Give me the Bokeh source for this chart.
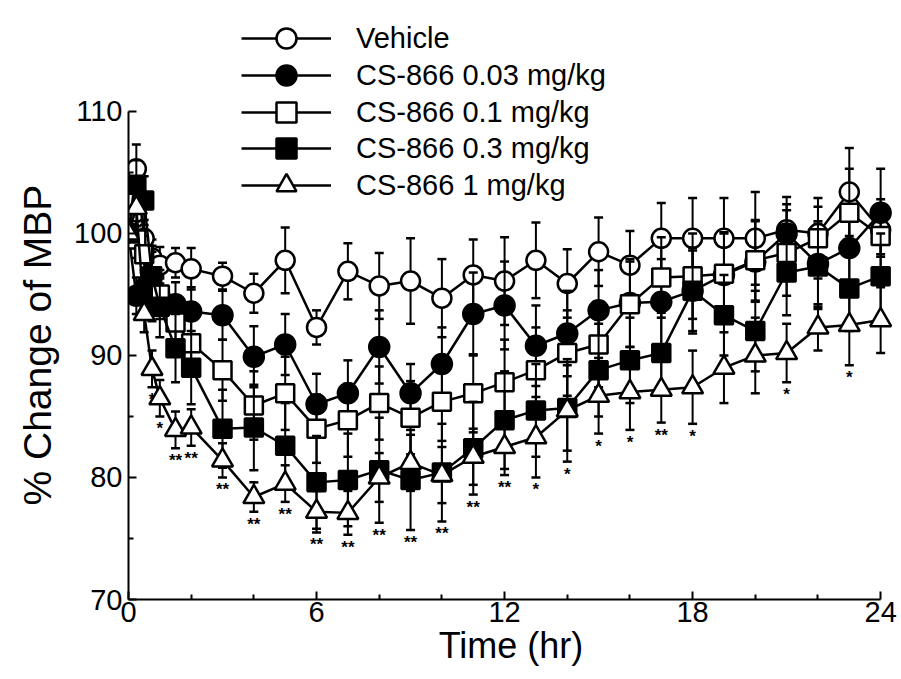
from bokeh.plotting import figure
from bokeh.models import ColumnDataSource, FixedTicker, Legend, LegendItem, Range1d, Title
from bokeh.embed import file_html
from bokeh.resources import INLINE
from bokeh.core.properties import value

# ---- data ----
times = [0, 0.25, 0.5, 0.75, 1, 1.5, 2, 3, 4, 5, 6, 7, 8, 9, 10, 11, 12,
         13, 14, 15, 16, 17, 18, 19, 20, 21, 22, 23, 24]

labels = ["Vehicle", "CS-866 0.03 mg/kg", "CS-866 0.1 mg/kg",
          "CS-866 0.3 mg/kg", "CS-866 1 mg/kg"]

vehicle = [100, 105.3, 99.6, 98.0, 97.4, 97.6, 97.1, 96.5, 95.1, 97.8, 92.3,
           96.9, 95.7, 96.1, 94.7, 96.6, 96.1, 97.8, 95.9, 98.5, 97.4, 99.6,
           99.6, 99.6, 99.6, 100.3, 100.0, 103.4, 100.3]
vehicle_sem = [0, 2.0, 1.5, 1.5, 1.5, 1.2, 1.7, 1.1, 1.6, 2.7, 1.4, 2.3, 2.7,
               3.5, 3.2, 2.9, 3.6, 3.1, 2.8, 2.8, 2.8, 2.9, 3.3, 3.3, 3.8,
               2.1, 2.2, 3.6, 2.0]
vehicle_sig = [""] * 29

dose003 = [100, 94.9, 95.5, 94.3, 94.8, 94.2, 93.6, 93.3, 89.9, 90.9, 86.0,
           86.9, 90.7, 86.9, 89.3, 93.4, 94.1, 90.8, 91.8, 93.7, 94.3, 94.4,
           95.3, 96.6, 97.7, 100.0, 97.5, 98.8, 101.7]
dose003_sem = [0, 1.5, 1.5, 1.5, 1.5, 1.8, 2.0, 2.0, 2.5, 2.5, 2.5, 2.7, 3.0,
               2.4, 3.0, 3.4, 3.6, 3.3, 3.5, 3.3, 3.6, 3.5, 3.3, 3.5, 3.3,
               3.0, 3.5, 3.6, 3.6]
dose003_sig = [""] * 29

dose01 = [100, 99.5, 98.3, 96.5, 95.0, 92.7, 91.0, 88.8, 85.9, 86.9, 84.0,
          84.7, 86.1, 84.9, 86.2, 86.9, 87.8, 88.8, 90.2, 90.9, 94.2, 96.4,
          96.5, 96.7, 97.8, 98.4, 99.6, 101.7, 99.8]
dose01_sem = [0, 1.5, 1.5, 2.0, 2.0, 2.2, 2.5, 2.5, 2.8, 3.0, 2.8, 3.0, 3.0,
              3.0, 3.2, 3.2, 3.5, 3.5, 3.5, 3.5, 3.5, 3.3, 3.5, 3.3, 3.3,
              3.5, 3.3, 3.6, 3.0]
dose01_sig = [""] * 29

dose03 = [100, 104.0, 102.7, 96.5, 94.0, 90.6, 89.0, 84.0, 84.1, 82.6, 79.6,
          79.8, 80.6, 79.8, 80.4, 82.4, 84.7, 85.5, 85.7, 88.8, 89.6, 90.2,
          95.3, 93.3, 92.0, 96.8, 97.3, 95.5, 96.5]
dose03_sem = [0, 2.0, 2.0, 2.5, 2.5, 2.8, 3.0, 3.2, 3.5, 3.5, 3.8, 3.8, 4.3,
              4.1, 4.0, 3.8, 4.0, 3.8, 3.5, 3.8, 3.5, 3.3, 3.5, 3.3, 3.3,
              3.5, 3.5, 3.5, 3.5]
dose03_sig = ["", "", "", "", "", "", "", "", "", "", "", "", "**", "**",
              "**", "**", "", "", "", "", "", "", "", "", "", "", "", "", ""]

dose1 = [100, 102.1, 93.4, 88.9, 86.5, 83.9, 84.1, 81.4, 78.4, 79.5, 77.2,
         77.1, 80.0, 81.2, 80.2, 81.7, 82.5, 83.3, 85.5, 86.7, 87.0, 87.2,
         87.4, 89.0, 90.0, 90.2, 92.3, 92.5, 92.9]
dose1_sem = [0, 1.5, 1.5, 1.5, 1.5, 1.5, 1.5, 1.4, 1.2, 1.5, 1.7, 1.8, 2.0,
             2.3, 2.3, 2.3, 2.3, 3.3, 4.2, 3.1, 3.1, 2.7, 3.0, 2.9, 3.1,
             2.4, 1.9, 3.3, 2.7]
dose1_sig = ["", "", "", "*", "*", "**", "**", "**", "**", "**", "**", "**",
             "", "", "", "", "**", "*", "*", "*", "*", "**", "*", "", "", "*",
             "", "*", ""]

x_ticks = [0, 6, 12, 18, 24]
x_minor = [2, 4, 8, 10, 14, 16, 20, 22]
y_ticks = [70, 80, 90, 100, 110]
y_minor = [75, 85, 95, 105]

FONT = "Liberation Sans"

# frame reaches up to the top of the page so the legend (drawn above the
# 110 tick, as in the reference) is not clipped; the y axis stops at 110.
p = figure(width=901, height=677,
           x_range=Range1d(0, 24.41), y_range=Range1d(70, 118.44),
           output_backend="svg", toolbar_location=None,
           min_border_left=127, min_border_right=8,
           min_border_top=8, min_border_bottom=78)
p.outline_line_color = None
p.xgrid.visible = False
p.ygrid.visible = False
p.background_fill_color = "white"
p.border_fill_color = "white"

series = [
    (labels[0], vehicle, vehicle_sem, vehicle_sig, "circle", "white", 19),
    (labels[1], dose003, dose003_sem, dose003_sig, "circle", "black", 20),
    (labels[2], dose01, dose01_sem, dose01_sig, "square", "white", 18),
    (labels[3], dose03, dose03_sem, dose03_sig, "square", "black", 18),
    (labels[4], dose1, dose1_sem, dose1_sig, "triangle", "white", 21),
]

# one single-row legend per series, so that rows can sit 37 px apart
# while the legend markers keep their full size
legend_bottoms = [536, 499, 462, 426, 389]

for (name, vals, sem, sig, marker, fill, size), vy in zip(series, legend_bottoms):
    src = ColumnDataSource(dict(
        t=times, y=vals,
        lo=[v - e for v, e in zip(vals, sem)],
        hi=[v + e for v, e in zip(vals, sem)],
        sig=sig))
    p.segment(x0="t", y0="lo", x1="t", y1="hi", source=src,
              line_color="black", line_width=2)
    p.scatter(x="t", y="lo", source=src, marker="dash", size=9,
              line_color="black", line_width=2.5)
    p.scatter(x="t", y="hi", source=src, marker="dash", size=9,
              line_color="black", line_width=2.5)
    p.text(x="t", y="lo", text="sig", source=src, text_align="center",
           text_baseline="top", y_offset=3, text_font=value(FONT),
           text_font_size="17px", text_font_style="bold", text_color="black")
    lr = p.line(x="t", y="y", source=src, line_color="black", line_width=2.5)
    mr = p.scatter(x="t", y="y", source=src, marker=marker, size=size,
                   fill_color=fill, line_color="black", line_width=2.5)
    leg = Legend(items=[LegendItem(label=name, renderers=[lr, mr])],
                 location=(113, vy),
                 glyph_width=90, glyph_height=50, label_height=50,
                 label_standoff=25, spacing=0, padding=0, margin=0,
                 border_line_color=None, background_fill_alpha=0,
                 label_text_font=FONT, label_text_font_size="29px",
                 label_text_color="black")
    p.add_layout(leg)

for ax in (p.xaxis[0], p.yaxis[0]):
    ax.axis_line_width = 2
    ax.major_tick_line_width = 2
    ax.minor_tick_line_width = 2
    ax.major_tick_in = 8
    ax.major_tick_out = 0
    ax.minor_tick_in = 5
    ax.minor_tick_out = 0
    ax.major_label_text_font = FONT
    ax.major_label_text_font_size = "29px"
    ax.major_label_text_color = "black"
    ax.axis_label_text_font = FONT
    ax.axis_label_text_font_style = "normal"
    ax.axis_label_text_color = "black"

p.xaxis[0].ticker = FixedTicker(ticks=x_ticks, minor_ticks=x_minor)
p.xaxis[0].bounds = (0, 24)
p.xaxis[0].major_label_standoff = 2
p.xaxis[0].axis_label = "Time (hr)"
p.xaxis[0].axis_label_text_font_size = "36px"
p.xaxis[0].axis_label_standoff = 0

p.yaxis[0].ticker = FixedTicker(ticks=y_ticks, minor_ticks=y_minor)
p.yaxis[0].bounds = (70, 110)
p.yaxis[0].major_label_standoff = 6

# y-axis title as a side title so it can be centred on the 70-110 span
ytitle = Title(text="% Change of MBP", align="left", offset=94,
               text_font=FONT, text_font_size="39px",
               text_font_style="normal", text_color="black", standoff=26)
p.add_layout(ytitle, "left")

open("out.html", "w").write(file_html(p, INLINE))
